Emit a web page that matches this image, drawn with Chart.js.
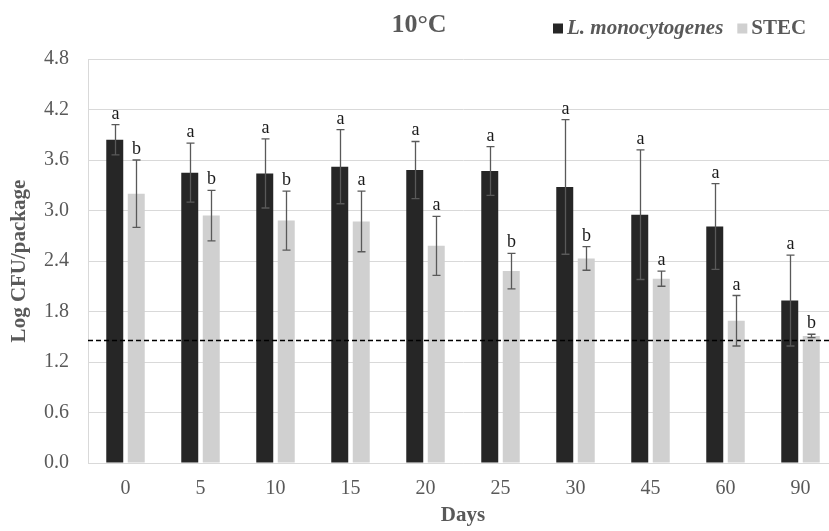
<!DOCTYPE html>
<html>
<head>
<meta charset="utf-8">
<script src="https://cdn.jsdelivr.net/npm/chart.js@4"></script>
<style>
  html, body { margin: 0; padding: 0; overflow: hidden; background: #fff; }
</style>
</head>
<body>
<canvas id="survivalChart" width="838" height="531" style="width:838px;height:531px"></canvas>
<script>
// values (Log CFU/package)
var days = ['0', '5', '10', '15', '20', '25', '30', '45', '60', '90'];
var listeria = [3.84, 3.45, 3.44, 3.52, 3.48, 3.47, 3.28, 2.95, 2.81, 1.93];
var listeriaErr = [0.18, 0.35, 0.41, 0.44, 0.34, 0.29, 0.80, 0.77, 0.51, 0.54];
var stec = [3.20, 2.94, 2.88, 2.87, 2.58, 2.28, 2.43, 2.19, 1.69, 1.51];
var stecErr = [0.40, 0.30, 0.35, 0.36, 0.35, 0.21, 0.14, 0.09, 0.30, 0.02];
var listeriaLetters = ['a', 'a', 'a', 'a', 'a', 'a', 'a', 'a', 'a', 'a'];
var stecLetters = ['b', 'b', 'b', 'a', 'a', 'b', 'b', 'a', 'a', 'b'];
var yTicks = [0, 0.6, 1.2, 1.8, 2.4, 3.0, 3.6, 4.2, 4.8];
var detectionLimit = 1.46;

var errors = [listeriaErr, stecErr];
var letters = [listeriaLetters, stecLetters];
var legendItalic = [true, false];
var SERIF = '"Liberation Serif", "Times New Roman", serif';

// error bars, significance letters and the detection limit line
var extrasPlugin = {
    id: 'extras',
    afterDatasetsDraw: function (chart) {
        var ctx = chart.ctx;
        var y = chart.scales.y;
        var area = chart.chartArea;

        var ly = Math.round(y.getPixelForValue(detectionLimit)) + 0.5;
        ctx.save();
        ctx.strokeStyle = '#000';
        ctx.lineWidth = 1.3;
        ctx.setLineDash([5, 3]);
        ctx.beginPath();
        ctx.moveTo(area.left, ly);
        ctx.lineTo(area.right, ly);
        ctx.stroke();
        ctx.restore();

        chart.data.datasets.forEach(function (ds, di) {
            var meta = chart.getDatasetMeta(di);
            meta.data.forEach(function (bar, i) {
                var v = ds.data[i];
                var e = errors[di][i];
                var x = Math.round(bar.x) + 0.5;
                var top = y.getPixelForValue(v + e);
                var bottom = y.getPixelForValue(v - e);
                ctx.save();
                ctx.strokeStyle = '#595959';
                ctx.lineWidth = 1.3;
                ctx.beginPath();
                ctx.moveTo(x, top);
                ctx.lineTo(x, bottom);
                ctx.moveTo(x - 4, top);
                ctx.lineTo(x + 4, top);
                ctx.moveTo(x - 4, bottom);
                ctx.lineTo(x + 4, bottom);
                ctx.stroke();
                ctx.fillStyle = '#1a1a1a';
                ctx.font = '18px ' + SERIF;
                ctx.textAlign = 'center';
                ctx.textBaseline = 'alphabetic';
                ctx.fillText(letters[di][i], x, top - 6);
                ctx.restore();
            });
        });
    },
    afterDraw: function (chart) {
        // legend drawn by hand: the species name is italic, STEC is not
        var ctx = chart.ctx;
        var x = 553;
        var cy = 28.5;
        ctx.save();
        chart.data.datasets.forEach(function (ds, di) {
            ctx.fillStyle = ds.backgroundColor;
            ctx.fillRect(x, cy - 5, 10, 10);
            x += 14;
            ctx.font = (legendItalic[di] ? 'italic ' : '') + 'bold 21px ' + SERIF;
            ctx.fillStyle = '#595959';
            ctx.textBaseline = 'middle';
            ctx.textAlign = 'left';
            ctx.fillText(ds.label, x, cy);
            x += ctx.measureText(ds.label).width + 14;
        });
        ctx.restore();
    }
};

var chartCtx = document.getElementById('survivalChart').getContext('2d');

var survivalChart = new Chart(chartCtx, {
    type: 'bar',
    data: {
        labels: days,
        datasets: [{
            label: 'L. monocytogenes',
            data: listeria,
            backgroundColor: '#262626',
            borderWidth: 0
        }, {
            label: 'STEC',
            data: stec,
            backgroundColor: '#d0d0d0',
            borderWidth: 0
        }]
    },
    options: {
        responsive: false,
        animation: false,
        layout: { padding: 0 },
        datasets: {
            bar: { categoryPercentage: 0.573, barPercentage: 0.79 }
        },
        plugins: {
            legend: { display: false },
            tooltip: { enabled: false },
            title: {
                display: true,
                text: '10°C',
                color: '#595959',
                font: { family: SERIF, size: 26, weight: 'bold', lineHeight: 1 },
                padding: { top: 12, bottom: 21 }
            }
        },
        scales: {
            x: {
                grid: { display: false, drawTicks: false },
                border: { display: true, color: '#d9d9d9' },
                ticks: {
                    color: '#595959',
                    padding: 16,
                    font: { family: SERIF, size: 20, lineHeight: 1 }
                },
                title: {
                    display: true,
                    text: 'Days',
                    color: '#595959',
                    font: { family: SERIF, size: 21, weight: 'bold', lineHeight: 1 },
                    padding: { top: -9.5, bottom: 4.5 }
                }
            },
            y: {
                min: 0,
                max: 4.8,
                afterBuildTicks: function (scale) {
                    scale.ticks = yTicks.map(function (v) { return { value: v }; });
                },
                grid: { color: '#d9d9d9', drawTicks: false },
                border: { display: true, color: '#d9d9d9' },
                ticks: {
                    color: '#595959',
                    padding: 19,
                    font: { family: SERIF, size: 20, lineHeight: 1 },
                    callback: function (v) { return Number(v).toFixed(1); }
                },
                title: {
                    display: true,
                    text: 'Log CFU/package',
                    color: '#595959',
                    font: { family: SERIF, size: 21, weight: 'bold', lineHeight: 1 },
                    padding: { top: 9.5, bottom: -5.5 }
                }
            }
        }
    },
    plugins: [extrasPlugin]
});
</script>
</body>
</html>
